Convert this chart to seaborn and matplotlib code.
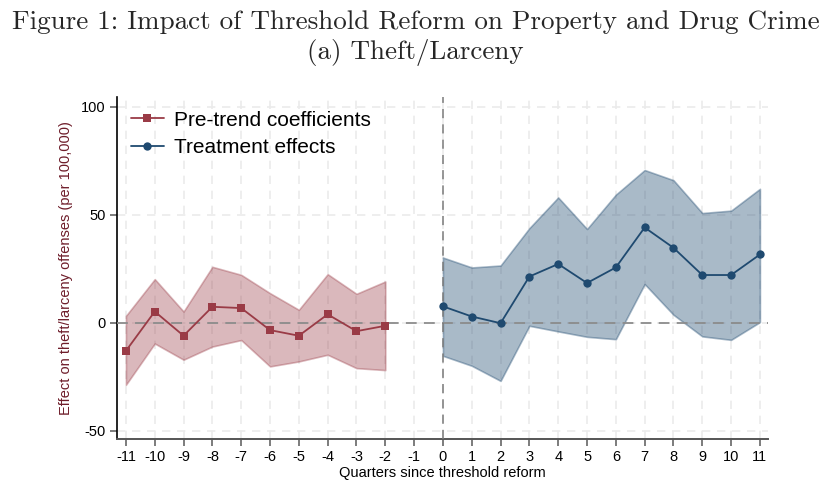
import seaborn as sns
import numpy as np
import pandas as pd
from matplotlib import pyplot as plt

# Event-study estimates
pre_q = [-11, -10, -9, -8, -7, -6, -5, -4, -3, -2]
pre_coef = [-13.0, 5.2, -6.0, 7.4, 6.8, -3.4, -6.0, 3.9, -3.9, -1.4]
pre_hi = [3.2, 20.2, 5.2, 25.9, 22.2, 13.7, 6.0, 22.5, 13.4, 19.1]
pre_lo = [-28.7, -9.6, -17.1, -11.0, -8.0, -20.2, -17.9, -14.8, -21.0, -21.9]

post_q = [0, 1, 2, 3, 4, 5, 6, 7, 8, 9, 10, 11]
post_coef = [7.6, 2.9, -0.2, 21.4, 27.2, 18.4, 25.6, 44.1, 34.7, 22.1, 22.1, 31.6]
post_hi = [30.2, 25.6, 26.5, 43.8, 58.0, 43.4, 59.3, 70.7, 66.0, 50.8, 51.9, 62.0]
post_lo = [-15.3, -19.9, -26.9, -1.4, -4.0, -6.5, -7.6, 17.9, 3.7, -6.3, -7.9, 0.3]

x_ticks = list(range(-11, 12))
y_ticks = [-50, 0, 50, 100]

red = "#9a3b46"
blue = "#1f4a70"

sns.set_style("white")
plt.rcParams['font.family'] = ['Liberation Sans', 'DejaVu Sans']
plt.rcParams['axes.unicode_minus'] = False

fig = plt.figure(figsize=(8.31, 4.94), dpi=100)
ax = fig.add_axes([117/831, 1 - 439/494, (768-117)/831, (439-97)/494])

pre = pd.DataFrame({"q": pre_q, "coef": pre_coef, "lo": pre_lo, "hi": pre_hi})
post = pd.DataFrame({"q": post_q, "coef": post_coef, "lo": post_lo, "hi": post_hi})

# grid
for t in x_ticks:
	ax.axvline(t, color="#ebebeb", lw=1.2, ls=(0, (5, 4)), zorder=0)
for t in y_ticks:
	ax.axhline(t, color="#ebebeb", lw=1.2, ls=(0, (5, 4)), zorder=0)

ax.fill_between(pre["q"], pre["lo"], pre["hi"], color=red, alpha=0.36, lw=1.2, edgecolor=red, zorder=2)
ax.fill_between(post["q"], post["lo"], post["hi"], color=blue, alpha=0.38, lw=1.2, edgecolor=blue, zorder=2)

ax.axhline(0, color="#8c8c8c", lw=1.3, ls=(0, (6, 4)), zorder=3)
ax.axvline(0, color="#7a7a7a", lw=1.1, ls=(0, (6, 4)), zorder=3)

sns.lineplot(data=pre, x="q", y="coef", color=red, marker="s", markersize=6,
			 markeredgewidth=0, lw=1.3, label="Pre-trend coefficients", ax=ax, zorder=4)
sns.lineplot(data=post, x="q", y="coef", color=blue, marker="o", markersize=6,
			 markeredgewidth=0, lw=1.3, label="Treatment effects", ax=ax, zorder=4)

ax.set_xlim(-11.31, 11.28)
ax.set_ylim(-53.8, 104.5)
ax.set_xticks(x_ticks)
ax.set_yticks(y_ticks)
ax.tick_params(axis="both", direction="out", length=5, width=1.2, color="#666666",
			   labelsize=10.5, labelcolor="black", pad=3, left=True, bottom=True)

for s in ["top", "right"]:
	ax.spines[s].set_visible(False)
ax.spines["left"].set_color("black")
ax.spines["bottom"].set_color("#555555")
ax.spines["left"].set_linewidth(1.2)
ax.spines["bottom"].set_linewidth(1.4)

ax.set_xlabel("Quarters since threshold reform", fontsize=10.5, labelpad=1, color="black")
ax.set_ylabel("Effect on theft/larceny offenses (per 100,000)", fontsize=10.5,
			  color="#6e1d2a", labelpad=6)

leg = ax.legend(loc="upper left", frameon=False, fontsize=15, handlelength=1.6,
				borderaxespad=0.25, labelspacing=0.42, handletextpad=0.5,
				bbox_to_anchor=(0.0, 1.0))
for t in leg.get_texts():
	t.set_color("black")

fig.text(0.5, 0.955, "Figure 1: Impact of Threshold Reform on Property and Drug Crime",
		 ha="center", va="center", fontsize=19.5, family="cmr10")
fig.text(0.5, 0.893, "(a) Theft/Larceny", ha="center", va="center", fontsize=19.5, family="cmr10")

fig.savefig("out.png", dpi=100)
